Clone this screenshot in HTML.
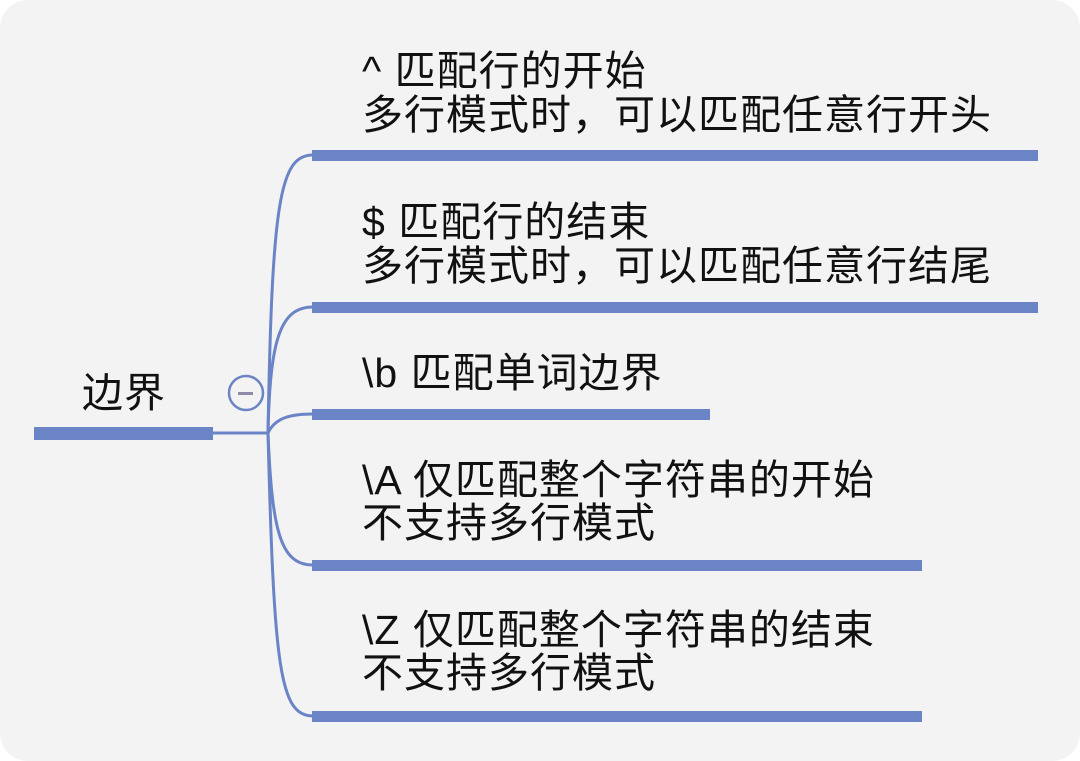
<!DOCTYPE html>
<html><head><meta charset="utf-8"><style>
html,body{margin:0;padding:0;background:#fff;}
svg{display:block;}
text{font-family:"Liberation Sans","Noto Sans CJK SC",sans-serif;font-size:41px;letter-spacing:1px;fill:#111;}
</style></head><body>
<svg width="1080" height="761" viewBox="0 0 1080 761">
<rect x="0" y="0" width="1080" height="761" rx="28" fill="#f3f3f4"/>
<g fill="#6b84c6">
<rect x="34" y="427" width="179" height="13"/>
<rect x="312" y="150" width="726" height="11"/>
<rect x="312" y="302" width="726" height="11"/>
<rect x="312" y="409" width="398" height="11"/>
<rect x="312" y="560" width="610" height="11"/>
<rect x="312" y="711" width="610" height="11"/>
</g>
<g fill="none" stroke="#6b84c6" stroke-width="3">
<line x1="213" y1="433" x2="268" y2="433"/>
<path d="M268 433 C272 200 280 155 313 155"/>
<path d="M268 433 C270 340 280 307 313 307"/>
<path d="M268 433 C275 418 290 414 313 414"/>
<path d="M268 433 C272 530 280 565 313 565"/>
<path d="M268 433 C274 670 280 716 313 716"/>
<circle cx="246" cy="393" r="17" stroke-width="2.5"/>
</g>
<rect x="238" y="392" width="15" height="3" fill="#8c8ca8"/>
<text x="82" y="407">边界</text>
<text x="362" y="85">^ 匹配行的开始</text>
<text x="362" y="129">多行模式时，可以匹配任意行开头</text>
<text x="362" y="236">$ 匹配行的结束</text>
<text x="362" y="280">多行模式时，可以匹配任意行结尾</text>
<text x="362" y="387">\b 匹配单词边界</text>
<text x="362" y="494">\A 仅匹配整个字符串的开始</text>
<text x="362" y="537">不支持多行模式</text>
<text x="362" y="644">\Z 仅匹配整个字符串的结束</text>
<text x="362" y="687">不支持多行模式</text>
</svg>
</body></html>
